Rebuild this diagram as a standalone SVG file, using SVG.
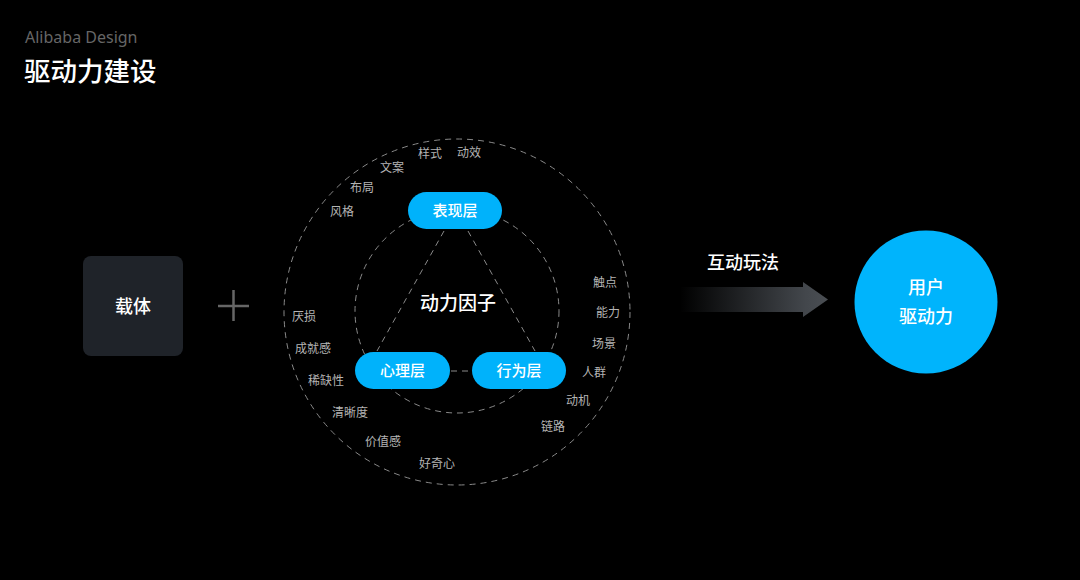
<svg xmlns="http://www.w3.org/2000/svg" width="1080" height="580" viewBox="0 0 1080 580">
<defs>
<linearGradient id="arrowGrad" x1="680" y1="0" x2="828" y2="0" gradientUnits="userSpaceOnUse">
<stop offset="0" stop-color="#000000"/>
<stop offset="0.85" stop-color="#43474c"/>
<stop offset="1" stop-color="#4a4e53"/>
</linearGradient>
<style>
text{font-family:"Noto Sans CJK SC","Liberation Sans",sans-serif;}
.lbl{font-size:12px;fill:#b4b4b4;text-anchor:middle;}
.pill{fill:#00b2fb;}
.ptxt{font-size:15px;fill:#ffffff;text-anchor:middle;font-weight:500;}
.dash{fill:none;stroke:#8a8a8a;stroke-width:1;stroke-dasharray:6 5;}
</style>
</defs>
<rect width="1080" height="580" fill="#000000"/>
<text x="25" y="43" font-size="16" fill="#666666" style="font-family:'Noto Sans','Liberation Sans',sans-serif">Alibaba Design</text>
<text x="24" y="81" font-size="26.5" fill="#ffffff" font-weight="500">驱动力建设</text>

<g id="connectors">
<circle class="dash" cx="457" cy="312" r="173"/>
<circle class="dash" cx="457" cy="311" r="102"/>
<line class="dash" x1="444" y1="231" x2="377" y2="351"/>
<line class="dash" x1="468" y1="231" x2="535" y2="351"/>
<line class="dash" x1="451" y1="371" x2="472" y2="371"/>
<path d="M680 287 L803 287 L803 282 L828 299.5 L803 317 L803 312 L680 312 Z" fill="url(#arrowGrad)"/>
</g>

<g id="carrier">
<rect x="83" y="256" width="100" height="100" rx="8" fill="#1f2329"/>
<text x="133" y="313" font-size="18" fill="#ffffff" text-anchor="middle" font-weight="500">载体</text>
</g>
<g id="plus">
<line x1="218" y1="306" x2="249" y2="306" stroke="#666" stroke-width="2.5"/>
<line x1="233.5" y1="290" x2="233.5" y2="321" stroke="#666" stroke-width="2.5"/>
</g>

<g id="center-label">
<text x="458" y="310" font-size="19" fill="#ffffff" text-anchor="middle" font-weight="500">动力因子</text>
</g>

<g id="node-biaoxian">
<rect class="pill" x="408" y="192" width="94" height="37" rx="18.5"/>
<text class="ptxt" x="455" y="216">表现层</text>
</g>
<g id="node-xinli">
<rect class="pill" x="355" y="352" width="95" height="37" rx="18.5"/>
<text class="ptxt" x="402.5" y="376">心理层</text>
</g>
<g id="node-xingwei">
<rect class="pill" x="472" y="352" width="94" height="37" rx="18.5"/>
<text class="ptxt" x="519" y="376">行为层</text>
</g>

<g id="labels">
<text class="lbl" x="430" y="158">样式</text>
<text class="lbl" x="469" y="157">动效</text>
<text class="lbl" x="392" y="172">文案</text>
<text class="lbl" x="362" y="192">布局</text>
<text class="lbl" x="342" y="216">风格</text>
<text class="lbl" x="304" y="321">厌损</text>
<text class="lbl" x="313" y="353">成就感</text>
<text class="lbl" x="326" y="385">稀缺性</text>
<text class="lbl" x="350" y="417">清晰度</text>
<text class="lbl" x="383" y="446">价值感</text>
<text class="lbl" x="437" y="468">好奇心</text>
<text class="lbl" x="605" y="287">触点</text>
<text class="lbl" x="608" y="317">能力</text>
<text class="lbl" x="604" y="348">场景</text>
<text class="lbl" x="594" y="377">人群</text>
<text class="lbl" x="578" y="405">动机</text>
<text class="lbl" x="553" y="431">链路</text>
</g>

<g id="arrow-label">
<text x="743" y="269" font-size="18" fill="#ffffff" text-anchor="middle" font-weight="500">互动玩法</text>
</g>

<g id="user-drive">
<circle cx="926" cy="302" r="71.5" fill="#00b4fc"/>
<text x="926" y="294" font-size="18" fill="#ffffff" text-anchor="middle" font-weight="500">用户</text>
<text x="926" y="323" font-size="18" fill="#ffffff" text-anchor="middle" font-weight="500">驱动力</text>
</g>
</svg>
